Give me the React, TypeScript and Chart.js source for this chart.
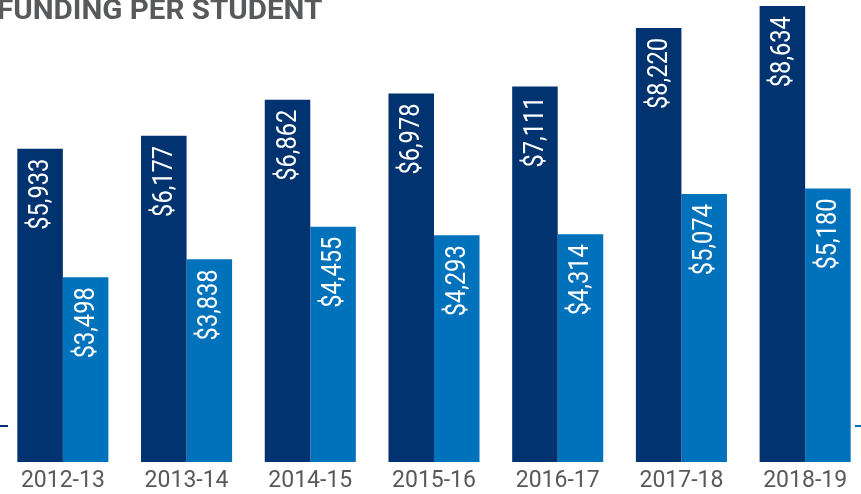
import React, { useEffect, useRef } from 'react';
import { Chart, registerables } from 'chart.js';

Chart.register(...registerables);

const title = 'FUNDING PER STUDENT';
const categories = ['2012-13', '2013-14', '2014-15', '2015-16', '2016-17', '2017-18', '2018-19'];
const seriesDark = [5933, 6177, 6862, 6978, 7111, 8220, 8634];
const seriesLight = [3498, 3838, 4455, 4293, 4314, 5074, 5180];

const DARK = '#00336F';
const LIGHT = '#0071BB';
const GRAY = '#58595B';

const decorPlugin = {
  id: 'decor',
  afterDatasetsDraw(chart: any) {
    const ctx = chart.ctx as CanvasRenderingContext2D;
    // value labels inside bars
    chart.data.datasets.forEach((ds: any, i: number) => {
      const meta = chart.getDatasetMeta(i);
      meta.data.forEach((bar: any, j: number) => {
        const v = ds.data[j] as number;
        const text = '$' + v.toLocaleString('en-US');
        ctx.save();
        ctx.translate(bar.x + 8, bar.y + 10);
        ctx.rotate(-Math.PI / 2);
        ctx.scale(0.875, 1);
        ctx.font = '27px Roboto';
        ctx.fillStyle = '#ffffff';
        ctx.textAlign = 'right';
        ctx.textBaseline = 'alphabetic';
        ctx.fillText(text, 0, 0);
        ctx.restore();
      });
    });
    // category labels
    const xs = chart.scales.x;
    ctx.save();
    ctx.font = '23px Roboto';
    ctx.fillStyle = GRAY;
    ctx.textAlign = 'center';
    ctx.textBaseline = 'alphabetic';
    categories.forEach((c, i) => {
      ctx.fillText(c, xs.getPixelForValue(i), 487);
    });
    ctx.restore();
    // title
    ctx.save();
    ctx.font = 'bold 28px Roboto';
    ctx.fillStyle = GRAY;
    ctx.textAlign = 'left';
    ctx.textBaseline = 'alphabetic';
    const m = ctx.measureText(title);
    const inkW = m.actualBoundingBoxLeft + m.actualBoundingBoxRight;
    const sx = 324 / inkW;
    ctx.translate(-2, 18.5);
    ctx.scale(sx, 1);
    ctx.fillText(title, m.actualBoundingBoxLeft, 0);
    ctx.restore();
    // small edge marks
    ctx.save();
    ctx.lineWidth = 2;
    ctx.strokeStyle = DARK;
    ctx.beginPath();
    ctx.moveTo(0, 426);
    ctx.lineTo(8, 426);
    ctx.stroke();
    ctx.strokeStyle = LIGHT;
    ctx.beginPath();
    ctx.moveTo(855, 426);
    ctx.lineTo(862, 426);
    ctx.stroke();
    ctx.restore();
  },
};

export default function App() {
  const ref = useRef<HTMLCanvasElement | null>(null);
  useEffect(() => {
    if (!ref.current) return;
    const chart = new Chart(ref.current, {
      type: 'bar',
      data: {
        labels: categories,
        datasets: [
          {
            label: 'A',
            data: seriesDark,
            backgroundColor: DARK,
            borderWidth: 0,
            barPercentage: 1,
            categoryPercentage: 0.736,
          },
          {
            label: 'B',
            data: seriesLight,
            backgroundColor: LIGHT,
            borderWidth: 0,
            barPercentage: 1,
            categoryPercentage: 0.736,
          },
        ],
      },
      options: {
        animation: false,
        responsive: false,
        devicePixelRatio: 1,
        layout: { padding: { left: 1, right: 0, top: 0, bottom: 32 } },
        plugins: { legend: { display: false }, tooltip: { enabled: false } },
        scales: {
          x: { display: false },
          y: { display: false, min: 0, max: 8750 },
        },
      },
      plugins: [decorPlugin],
    });
    return () => chart.destroy();
  }, []);
  return (
    <div
      style={{
        position: 'fixed',
        left: 0,
        top: 0,
        width: 861,
        height: 494,
        overflow: 'hidden',
        background: '#ffffff',
      }}
    >
      <canvas ref={ref} width={867} height={494} style={{ display: 'block', width: 867, height: 494 }} />
    </div>
  );
}
